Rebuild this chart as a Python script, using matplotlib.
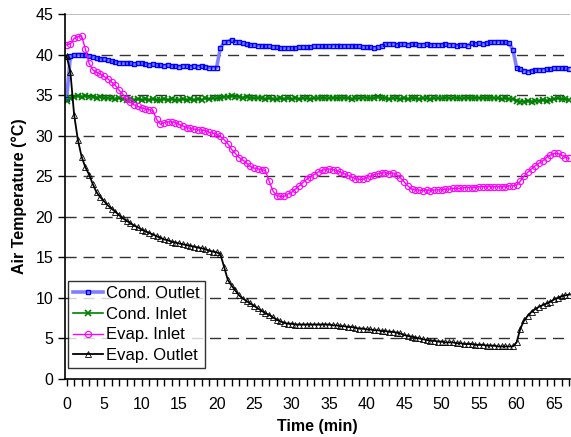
import numpy as np
import matplotlib.pyplot as plt
from matplotlib.ticker import MultipleLocator

plt.rcParams['font.family'] = ['Liberation Sans', 'DejaVu Sans']

# time in minutes, one reading every 30 s
time = np.arange(0, 67.01, 0.5)

cond_outlet = [
    34.5, 39.8, 39.9, 40.0, 40.0, 39.9, 39.8, 39.7, 39.6, 39.5,
    39.4, 39.3, 39.2, 39.1, 39.0, 39.0, 38.9, 38.9, 38.8, 38.9,
    38.9, 38.8, 38.7, 38.8, 38.7, 38.7, 38.6, 38.7, 38.6, 38.6,
    38.5, 38.6, 38.6, 38.5, 38.6, 38.5, 38.6, 38.5, 38.4, 38.4,
    38.4, 40.8, 41.5, 41.6, 41.8, 41.6, 41.5, 41.4, 41.3, 41.2,
    41.2, 41.1, 41.1, 41.0, 41.0, 40.9, 40.9, 40.8, 40.8, 40.8,
    40.8, 40.8, 40.9, 40.9, 40.9, 40.9, 41.0, 41.0, 41.0, 41.0,
    41.0, 41.1, 41.1, 41.1, 41.0, 41.0, 41.1, 41.0, 41.0, 40.9,
    40.9, 40.9, 40.8, 40.9, 41.0, 41.3, 41.3, 41.3, 41.2, 41.3,
    41.3, 41.2, 41.3, 41.3, 41.2, 41.2, 41.3, 41.2, 41.2, 41.2,
    41.2, 41.3, 41.2, 41.2, 41.1, 41.2, 41.2, 41.1, 41.4, 41.3,
    41.4, 41.3, 41.4, 41.5, 41.5, 41.6, 41.5, 41.5, 41.4, 40.6,
    38.4, 38.2, 38.0, 37.9, 38.0, 38.1, 38.1, 38.1, 38.2, 38.2,
    38.3, 38.3, 38.3, 38.3, 38.2,
]

cond_inlet = [
    34.3, 34.6, 34.8, 34.9, 34.8, 34.9, 34.8, 34.8, 34.7, 34.8,
    34.7, 34.6, 34.6, 34.5, 34.6, 34.5, 34.4, 34.5, 34.4, 34.5,
    34.4, 34.5, 34.4, 34.5, 34.4, 34.4, 34.5, 34.4, 34.5, 34.4,
    34.4, 34.5, 34.4, 34.5, 34.4, 34.5, 34.4, 34.6, 34.5, 34.6,
    34.6, 34.7, 34.8, 34.8, 34.9, 34.8, 34.8, 34.7, 34.8, 34.7,
    34.6, 34.7, 34.6, 34.5, 34.6, 34.5, 34.5, 34.6, 34.5, 34.6,
    34.5, 34.6, 34.5, 34.6, 34.6, 34.5, 34.6, 34.6, 34.7, 34.6,
    34.6, 34.7, 34.6, 34.6, 34.7, 34.6, 34.5, 34.6, 34.6, 34.7,
    34.7, 34.6, 34.7, 34.8, 34.7, 34.6, 34.5, 34.6, 34.6, 34.5,
    34.6, 34.5, 34.6, 34.6, 34.5, 34.6, 34.6, 34.5, 34.6, 34.6,
    34.6, 34.7, 34.6, 34.6, 34.7, 34.6, 34.6, 34.7, 34.6, 34.7,
    34.6, 34.7, 34.6, 34.7, 34.6, 34.6, 34.5, 34.6, 34.5, 34.5,
    34.3, 34.2, 34.2, 34.3, 34.2, 34.3, 34.3, 34.4, 34.3, 34.4,
    34.5, 34.6, 34.5, 34.5, 34.4,
]

evap_inlet = [
    41.2, 41.3, 42.0, 42.2, 42.3, 40.7, 38.9, 38.1, 37.8, 37.6,
    37.3, 37.0, 36.6, 36.2, 35.6, 35.1, 34.5, 34.1, 33.8, 33.6,
    33.4, 33.3, 33.2, 33.1, 32.0, 31.4, 31.6, 31.7, 31.7, 31.6,
    31.4, 31.2, 31.0, 30.9, 30.8, 30.7, 30.7, 30.6, 30.4, 30.3,
    30.2, 29.9, 29.5, 29.0, 28.3, 27.8, 27.3, 27.0, 26.6, 26.2,
    26.0, 25.9, 25.8, 25.7, 24.4, 23.2, 22.6, 22.5, 22.5, 22.8,
    23.0, 23.4, 23.8, 24.2, 24.6, 24.9, 25.2, 25.5, 25.7, 25.8,
    25.9, 25.8, 25.7, 25.5, 25.3, 25.1, 24.9, 24.7, 24.6, 24.6,
    24.8, 25.0, 25.2, 25.3, 25.4, 25.4, 25.3, 25.4, 25.2, 24.8,
    24.3, 23.8, 23.4, 23.3, 23.3, 23.2, 23.3, 23.2, 23.3, 23.3,
    23.3, 23.4, 23.4, 23.5, 23.5, 23.5, 23.6, 23.6, 23.6, 23.6,
    23.7, 23.7, 23.7, 23.7, 23.7, 23.7, 23.7, 23.7, 23.8, 23.8,
    23.9, 24.4, 25.0, 25.5, 25.9, 26.3, 26.6, 26.9, 27.3, 27.6,
    27.8, 27.8, 27.6, 27.3, 27.2,
]

evap_outlet = [
    39.8, 37.9, 32.6, 29.5, 27.4, 26.1, 25.2, 24.0, 23.0, 22.4,
    21.9, 21.4, 21.0, 20.6, 20.2, 19.8, 19.5, 19.2, 18.9, 18.7,
    18.4, 18.2, 18.0, 17.8, 17.6, 17.4, 17.2, 17.1, 16.9, 16.8,
    16.7, 16.6, 16.5, 16.4, 16.3, 16.2, 16.1, 16.0, 15.8, 15.7,
    15.6, 15.4, 13.8, 12.2, 11.5, 10.9, 10.3, 9.9, 9.6, 9.3,
    9.0, 8.7, 8.4, 8.1, 7.9, 7.6, 7.3, 7.1, 6.9, 6.8,
    6.8, 6.7, 6.7, 6.7, 6.7, 6.7, 6.7, 6.7, 6.7, 6.7,
    6.7, 6.6, 6.6, 6.5, 6.5, 6.4, 6.4, 6.3, 6.2, 6.2,
    6.1, 6.1, 6.0, 6.0, 5.9, 5.9, 5.8, 5.8, 5.7, 5.6,
    5.4, 5.3, 5.2, 5.1, 5.0, 4.9, 4.8, 4.7, 4.7, 4.6,
    4.6, 4.5, 4.5, 4.5, 4.4, 4.4, 4.3, 4.3, 4.3, 4.2,
    4.2, 4.2, 4.1, 4.1, 4.1, 4.0, 4.0, 4.0, 4.0, 4.0,
    4.5, 6.2, 7.2, 7.8, 8.3, 8.6, 8.9, 9.1, 9.3, 9.5,
    9.8, 10.0, 10.2, 10.3, 10.4,
]

fig = plt.figure(figsize=(5.71, 4.37), dpi=100)
ax = fig.add_axes([0.114, 0.133, 0.884, 0.835])

# horizontal grid lines
for yv in range(5, 45, 5):
    ax.axhline(yv, color='#333333', lw=1, ls=(0, (8, 5)), zorder=0)
ax.axhline(45, color='#b0b0b0', lw=1.2, zorder=0)

ax.plot(time, cond_outlet, color='#8080ff', lw=2.6, marker='s', ms=2.6,
        mfc='none', mec='#0000ff', mew=1.0, label='Cond. Outlet')
ax.plot(time, cond_inlet, color='#008000', lw=1.2, marker='x', ms=4.5,
        mew=1.2, label='Cond. Inlet')
ax.plot(time, evap_inlet, color='#ff00ff', lw=1, marker='o', ms=4.5,
        mfc='none', mew=0.8, label='Evap. Inlet')
ax.plot(time, evap_outlet, color='black', lw=1.3, marker='^', ms=4.5,
        mfc='none', mew=0.6, label='Evap. Outlet')

ax.set_xlim(-0.2, 67.1)
ax.set_ylim(0, 45)
ax.xaxis.set_major_locator(MultipleLocator(5))
ax.xaxis.set_minor_locator(MultipleLocator(1))
ax.yaxis.set_major_locator(MultipleLocator(5))
ax.tick_params(axis='both', labelsize=11.5, direction='out', length=5, width=1)
ax.tick_params(axis='x', which='minor', direction='out', length=5, width=1)
ax.tick_params(axis='x', pad=8)

for side in ['top', 'right']:
    ax.spines[side].set_visible(False)
for side in ['left', 'bottom']:
    ax.spines[side].set_linewidth(1.2)

ax.set_xlabel('Time (min)', fontsize=11.5, fontweight='bold', labelpad=5)
ax.set_ylabel('Air Temperature (°C)', fontsize=11.5, fontweight='bold', labelpad=6)

leg = ax.legend(loc='lower left', bbox_to_anchor=(0.0, 0.02), fontsize=12,
                frameon=True, fancybox=False, edgecolor='black',
                handlelength=1.8, handletextpad=0.15, borderpad=0.3,
                labelspacing=0.35, borderaxespad=0.2)
leg.get_frame().set_linewidth(1)

fig.savefig('out.png', dpi=100)
